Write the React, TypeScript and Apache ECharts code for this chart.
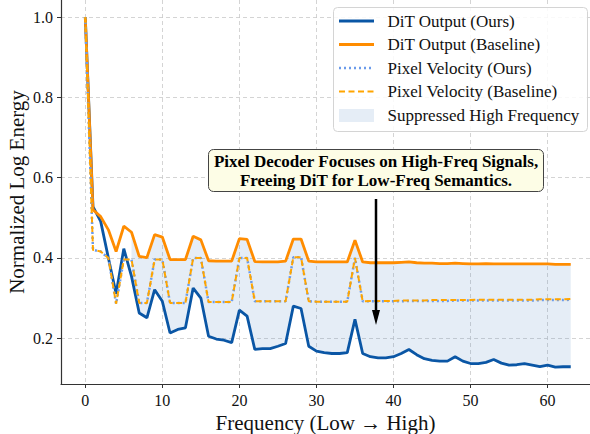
import React, { useEffect, useRef } from "react";
import * as echarts from "echarts";

// DiT output spectra (normalized log energy) per frequency index 0..63
const ditOurs = [
  1.0, 0.528, 0.491, 0.4, 0.311, 0.423, 0.354, 0.263, 0.251, 0.321,
  0.292, 0.213, 0.222, 0.226, 0.325, 0.3, 0.205, 0.198, 0.195, 0.189,
  0.27, 0.255, 0.172, 0.174, 0.174, 0.18, 0.187, 0.28, 0.274, 0.18,
  0.168, 0.164, 0.162, 0.162, 0.164, 0.247, 0.162, 0.154, 0.151, 0.151,
  0.154, 0.162, 0.172, 0.159, 0.149, 0.145, 0.143, 0.143, 0.154, 0.143,
  0.137, 0.137, 0.14, 0.147, 0.138, 0.133, 0.134, 0.137, 0.133, 0.129,
  0.133, 0.128, 0.129, 0.129,
];
const ditBase = [
  1.0, 0.52, 0.503, 0.47, 0.416, 0.479, 0.464, 0.404, 0.401, 0.458,
  0.452, 0.396, 0.396, 0.396, 0.454, 0.445, 0.393, 0.392, 0.392, 0.392,
  0.448, 0.446, 0.391, 0.39, 0.39, 0.39, 0.392, 0.447, 0.447, 0.392,
  0.39, 0.39, 0.39, 0.39, 0.39, 0.444, 0.39, 0.388, 0.388, 0.388,
  0.388, 0.389, 0.39, 0.388, 0.387, 0.387, 0.386, 0.386, 0.387, 0.386,
  0.385, 0.385, 0.386, 0.385, 0.385, 0.385, 0.385, 0.385, 0.385, 0.385,
  0.385, 0.384, 0.384, 0.384,
];
// Pixel velocity spectra
const pvOurs = [
  1.0, 0.42, 0.416, 0.4, 0.286, 0.396, 0.396, 0.288, 0.288, 0.396,
  0.396, 0.288, 0.288, 0.288, 0.4, 0.4, 0.29, 0.29, 0.29, 0.29,
  0.4, 0.4, 0.292, 0.292, 0.292, 0.292, 0.292, 0.402, 0.402, 0.292,
  0.291, 0.291, 0.291, 0.291, 0.291, 0.4, 0.292, 0.292, 0.292, 0.292,
  0.292, 0.292, 0.293, 0.293, 0.293, 0.293, 0.293, 0.293, 0.294, 0.294,
  0.294, 0.294, 0.294, 0.294, 0.294, 0.294, 0.294, 0.294, 0.294, 0.295,
  0.295, 0.295, 0.295, 0.296,
];
const pvBase = [
  1.0, 0.42, 0.416, 0.4, 0.286, 0.396, 0.396, 0.288, 0.288, 0.396,
  0.396, 0.288, 0.288, 0.288, 0.4, 0.4, 0.29, 0.29, 0.29, 0.29,
  0.4, 0.4, 0.292, 0.292, 0.292, 0.292, 0.292, 0.402, 0.402, 0.292,
  0.291, 0.291, 0.291, 0.291, 0.291, 0.4, 0.292, 0.293, 0.293, 0.293,
  0.293, 0.294, 0.294, 0.294, 0.294, 0.295, 0.295, 0.295, 0.295, 0.295,
  0.295, 0.296, 0.296, 0.296, 0.296, 0.296, 0.296, 0.296, 0.296, 0.297,
  0.297, 0.297, 0.297, 0.298,
];
const fillStart = 6;
const xTicks = [0, 10, 20, 30, 40, 50, 60];
const yTicks = [0.2, 0.4, 0.6, 0.8, 1.0];
const legendNames = [
  "DiT Output (Ours)",
  "DiT Output (Baseline)",
  "Pixel Velocity (Ours)",
  "Pixel Velocity (Baseline)",
  "Suppressed High Frequency",
];
const annotationLines = [
  "Pixel Decoder Focuses on High-Freq Signals,",
  "Freeing DiT for Low-Freq Semantics.",
];

const FONT = "'Liberation Serif', 'DejaVu Serif', serif";
const C_BLUE = "#0a56a5";
const C_ORANGE = "#ff8c00";
const C_DOT = "#6b9bea";
const C_DASH = "#ffa500";
const C_FILL = "rgba(70,130,190,0.14)";

const pairs = (arr: number[]) => arr.map((v, i) => [i, v]);

export default function App() {
  const ref = useRef<HTMLDivElement>(null);
  useEffect(() => {
    const chart = echarts.init(ref.current!, null, { renderer: "svg" });
    const gridLine = { show: true, lineStyle: { color: "#c9c9c9", width: 0.8, type: [4, 3] } };
    const legendRows = [21, 44.5, 68, 91.5, 115];
    const legendItems: any[] = [
      {
        type: "rect",
        shape: { x: 333.5, y: 7.5, width: 254, height: 124, r: 4 },
        style: { fill: "rgba(255,255,255,0.85)", stroke: "#d4d4d4", lineWidth: 1 },
        z: 100,
      },
      { type: "line", shape: { x1: 339, y1: legendRows[0], x2: 374, y2: legendRows[0] }, style: { stroke: C_BLUE, lineWidth: 2.8 }, z: 101 },
      { type: "line", shape: { x1: 339, y1: legendRows[1], x2: 374, y2: legendRows[1] }, style: { stroke: C_ORANGE, lineWidth: 2.8 }, z: 101 },
      { type: "line", shape: { x1: 339, y1: legendRows[2], x2: 374, y2: legendRows[2] }, style: { stroke: C_DOT, lineWidth: 2.5, lineDash: [2, 3] }, z: 101 },
      { type: "line", shape: { x1: 339, y1: legendRows[3], x2: 374, y2: legendRows[3] }, style: { stroke: C_DASH, lineWidth: 2, lineDash: [6, 3.5] }, z: 101 },
      { type: "rect", shape: { x: 339, y: 109, width: 35, height: 13 }, style: { fill: C_FILL }, z: 101 },
      ...legendNames.map((t, i) => ({
        type: "text",
        x: 387.5,
        y: legendRows[i],
        style: { text: t, font: `17px ${FONT}`, fill: "#111", verticalAlign: "middle", align: "left" },
        z: 101,
      })),
    ];
    const annot: any[] = [
      {
        type: "rect",
        shape: { x: 208.5, y: 149.5, width: 335, height: 42, r: 5 },
        style: { fill: "#fdfde6", stroke: "#444", lineWidth: 1 },
        z: 90,
      },
      ...annotationLines.map((t, i) => ({
        type: "text",
        x: 376,
        y: 161 + i * 19.5,
        style: { text: t, font: `bold 17px ${FONT}`, fill: "#000", align: "center", verticalAlign: "middle" },
        z: 91,
      })),
      { type: "line", shape: { x1: 376, y1: 199, x2: 376, y2: 314 }, style: { stroke: "#000", lineWidth: 2.5 }, z: 91 },
      { type: "polygon", shape: { points: [[372, 310], [380, 310], [376, 325]] }, style: { fill: "#000" }, z: 91 },
    ];

    chart.setOption({
      animation: false,
      backgroundColor: "#fff",
      grid: { left: 61, right: 0, top: 0, bottom: 50, outerBoundsMode: "none", containLabel: false },
      xAxis: {
        type: "value",
        min: -3.15,
        max: 65.5,
        name: "Frequency (Low \u2192 High)",
        nameLocation: "middle",
        nameGap: 28,
        nameMoveOverlap: false,
        nameTextStyle: { fontFamily: FONT, fontSize: 21, color: "#111" },
        axisLine: { show: true, onZero: false, lineStyle: { color: "#333", width: 1.2 } },
        axisTick: { show: true, length: 4, customValues: xTicks, lineStyle: { color: "#333" } },
        axisLabel: { customValues: xTicks, fontFamily: FONT, fontSize: 16, color: "#111", margin: 8 },
        splitLine: gridLine,
      },
      yAxis: {
        type: "value",
        min: 0.086,
        max: 1.0425,
        name: "Normalized Log Energy",
        nameLocation: "middle",
        nameGap: 34,
        nameMoveOverlap: false,
        nameTextStyle: { fontFamily: FONT, fontSize: 21, color: "#111" },
        axisLine: { show: true, onZero: false, lineStyle: { color: "#333", width: 1.2 } },
        axisTick: { show: true, length: 4, customValues: yTicks, lineStyle: { color: "#333" } },
        axisLabel: {
          customValues: yTicks,
          fontFamily: FONT,
          fontSize: 16,
          color: "#111",
          margin: 8,
          formatter: (v: number) => v.toFixed(1),
        },
        splitLine: gridLine,
      },
      series: [
        {
          type: "custom",
          name: legendNames[4],
          data: [[30, 0.3]],
          silent: true,
          clip: true,
          z: 1,
          renderItem: (_params: any, api: any) => {
            const pts: number[][] = [];
            for (let i = fillStart; i < ditBase.length; i++) pts.push(api.coord([i, ditBase[i]]));
            for (let i = ditOurs.length - 1; i >= fillStart; i--) pts.push(api.coord([i, ditOurs[i]]));
            return { type: "polygon", shape: { points: pts }, style: { fill: C_FILL } };
          },
        },
        {
          type: "line",
          name: legendNames[0],
          data: pairs(ditOurs),
          symbol: "none",
          lineStyle: { color: C_BLUE, width: 2.8 },
          z: 3,
        },
        {
          type: "line",
          name: legendNames[1],
          data: pairs(ditBase),
          symbol: "none",
          lineStyle: { color: C_ORANGE, width: 2.8 },
          z: 3,
        },
        {
          type: "line",
          name: legendNames[2],
          data: pairs(pvOurs),
          symbol: "none",
          lineStyle: { color: C_DOT, width: 2.5, type: [2, 3] },
          z: 4,
        },
        {
          type: "line",
          name: legendNames[3],
          data: pairs(pvBase),
          symbol: "none",
          lineStyle: { color: C_DASH, width: 2, type: [6, 3.5] },
          z: 5,
        },
      ],
      graphic: [...annot, ...legendItems],
    });
    return () => chart.dispose();
  }, []);
  return (
    <div
      ref={ref}
      style={{ width: 590, height: 434, position: "absolute", left: 0, top: 0, background: "#fff" }}
    />
  );
}
